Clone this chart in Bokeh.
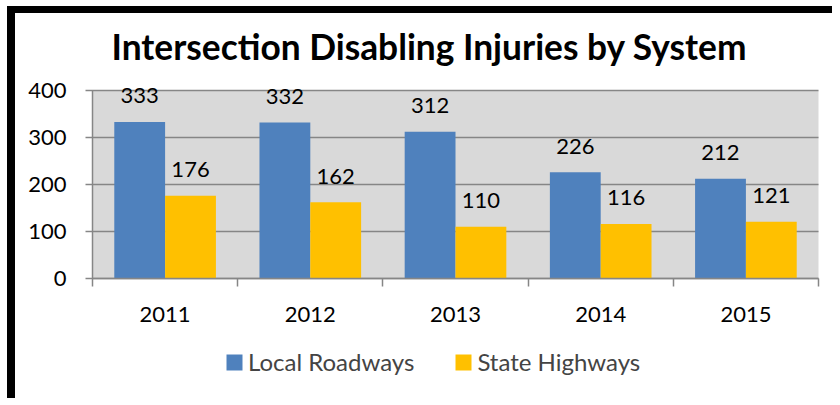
from bokeh.plotting import figure
from bokeh.models import FixedTicker, Legend, LegendItem, ColumnDataSource, BoxAnnotation, Range1d
from bokeh.core.properties import value
from bokeh.embed import file_html
from bokeh.resources import INLINE

# ---- data ----
years = ["2011", "2012", "2013", "2014", "2015"]
local_roadways = [333, 332, 312, 226, 212]
state_highways = [176, 162, 110, 116, 121]
series_names = ["Local Roadways", "State Highways"]
y_ticks = [0, 100, 200, 300, 400]
title_text = "Intersection Disabling Injuries by System"

# ---- style / geometry ----
BLUE = "#4F81BD"
GOLD = "#FFC000"
GRID = "#868686"
PLOT_BG = "#D9D9D9"
FONT = "Lato"

W, H = 825, 392            # canvas size
TOP = 62                   # space for the title above the frame
PLOT_L, PLOT_R = 77, 803   # plot area (gray) left/right inside canvas, px
PLOT_T, PLOT_B = 15, 203   # plot area top/bottom inside frame, px
FRAME_H = H - TOP

X_LO, X_HI = -0.5, len(years) - 0.5
Y_LO, Y_HI = y_ticks[0], y_ticks[-1]
px_x = (PLOT_R - PLOT_L) / (X_HI - X_LO)
px_y = (PLOT_B - PLOT_T) / (Y_HI - Y_LO)
x_range = Range1d(X_LO - PLOT_L / px_x, X_HI + (W - PLOT_R) / px_x)
y_range = Range1d(Y_LO - (FRAME_H - PLOT_B) / px_y, Y_HI + PLOT_T / px_y)

idx = list(range(len(years)))
bar_w = 0.35
src_local = ColumnDataSource(dict(x=[i - bar_w / 2 for i in idx], top=local_roadways,
                                  lbl=[str(v) for v in local_roadways]))
src_state = ColumnDataSource(dict(x=[i + bar_w / 2 for i in idx], top=state_highways,
                                  lbl=[str(v) for v in state_highways]))

p = figure(width=W, height=H, x_range=x_range, y_range=y_range,
           output_backend="svg", toolbar_location=None,
           min_border_left=0, min_border_right=0, min_border_top=TOP, min_border_bottom=0)
p.styles = {"margin-left": "7px", "margin-top": "6px",
            "border-left": "8px solid black", "border-top": "7px solid black"}

p.title.text = title_text
p.title.align = "left"
p.title.offset = 96
p.title.text_font = FONT
p.title.text_font_style = "bold"
p.title.text_font_size = "35.3px"
p.title.text_color = "black"
p.title.standoff = 15

p.background_fill_color = "white"
p.border_fill_color = "white"
p.outline_line_color = None
p.xgrid.visible = False
p.ygrid.visible = False

# gray plot area
p.add_layout(BoxAnnotation(left=X_LO, right=X_HI, bottom=Y_LO, top=Y_HI,
                           fill_color=PLOT_BG, fill_alpha=1, line_color=None, level="image"))

# y axis: ticks drawn through the plot area act as gridlines
yax = p.yaxis[0]
yax.fixed_location = X_LO
yax.bounds = (Y_LO, Y_HI)
yax.level = "underlay"
yax.ticker = FixedTicker(ticks=y_ticks, minor_ticks=[])
yax.axis_line_color = GRID
yax.axis_line_width = 1.5
yax.major_tick_line_color = GRID
yax.major_tick_line_width = 1.5
yax.major_tick_out = 7
yax.major_tick_in = PLOT_R - PLOT_L
yax.minor_tick_line_color = None
yax.major_label_text_font = FONT
yax.major_label_text_font_size = "22px"
yax.major_label_text_color = "black"
yax.major_label_standoff = 19

xax = p.xaxis[0]
xax.fixed_location = Y_LO
xax.bounds = (X_LO, X_HI)
xax.ticker = FixedTicker(ticks=idx, minor_ticks=[i - 0.5 for i in range(len(years) + 1)])
xax.major_label_overrides = {i: y for i, y in zip(idx, years)}
xax.axis_line_color = GRID
xax.axis_line_width = 1.5
xax.major_tick_line_color = None
xax.major_tick_out = 0
xax.major_tick_in = 0
xax.minor_tick_line_color = GRID
xax.minor_tick_line_width = 1.5
xax.minor_tick_out = 8
xax.minor_tick_in = 0
xax.major_label_text_font = FONT
xax.major_label_text_font_size = "22px"
xax.major_label_text_color = "black"
xax.major_label_standoff = 20

r1 = p.vbar(x="x", top="top", width=bar_w, source=src_local, fill_color=BLUE, line_color=None)
r2 = p.vbar(x="x", top="top", width=bar_w, source=src_state, fill_color=GOLD, line_color=None)

for src in (src_local, src_state):
    p.text(x="x", y="top", text="lbl", source=src, text_align="center",
           text_baseline="alphabetic", y_offset=-26, text_font=value(FONT),
           text_font_size="22px", text_color="black")

legend = Legend(items=[LegendItem(label=series_names[0], renderers=[r1]),
                       LegendItem(label=series_names[1], renderers=[r2])],
                orientation="horizontal", location=(209, 29),
                padding=0, margin=0, spacing=39, label_standoff=4,
                glyph_width=20, glyph_height=20, label_height=20,
                border_line_color=None, background_fill_alpha=0,
                label_text_font=FONT, label_text_font_size="24px")
p.add_layout(legend, "center")

# bottom edge of the black frame
p.add_layout(BoxAnnotation(bottom=y_range.start, top=y_range.start + 7 / px_y,
                           fill_color="black", fill_alpha=1, line_color=None))

open("out.html", "w").write(file_html(p, INLINE))
